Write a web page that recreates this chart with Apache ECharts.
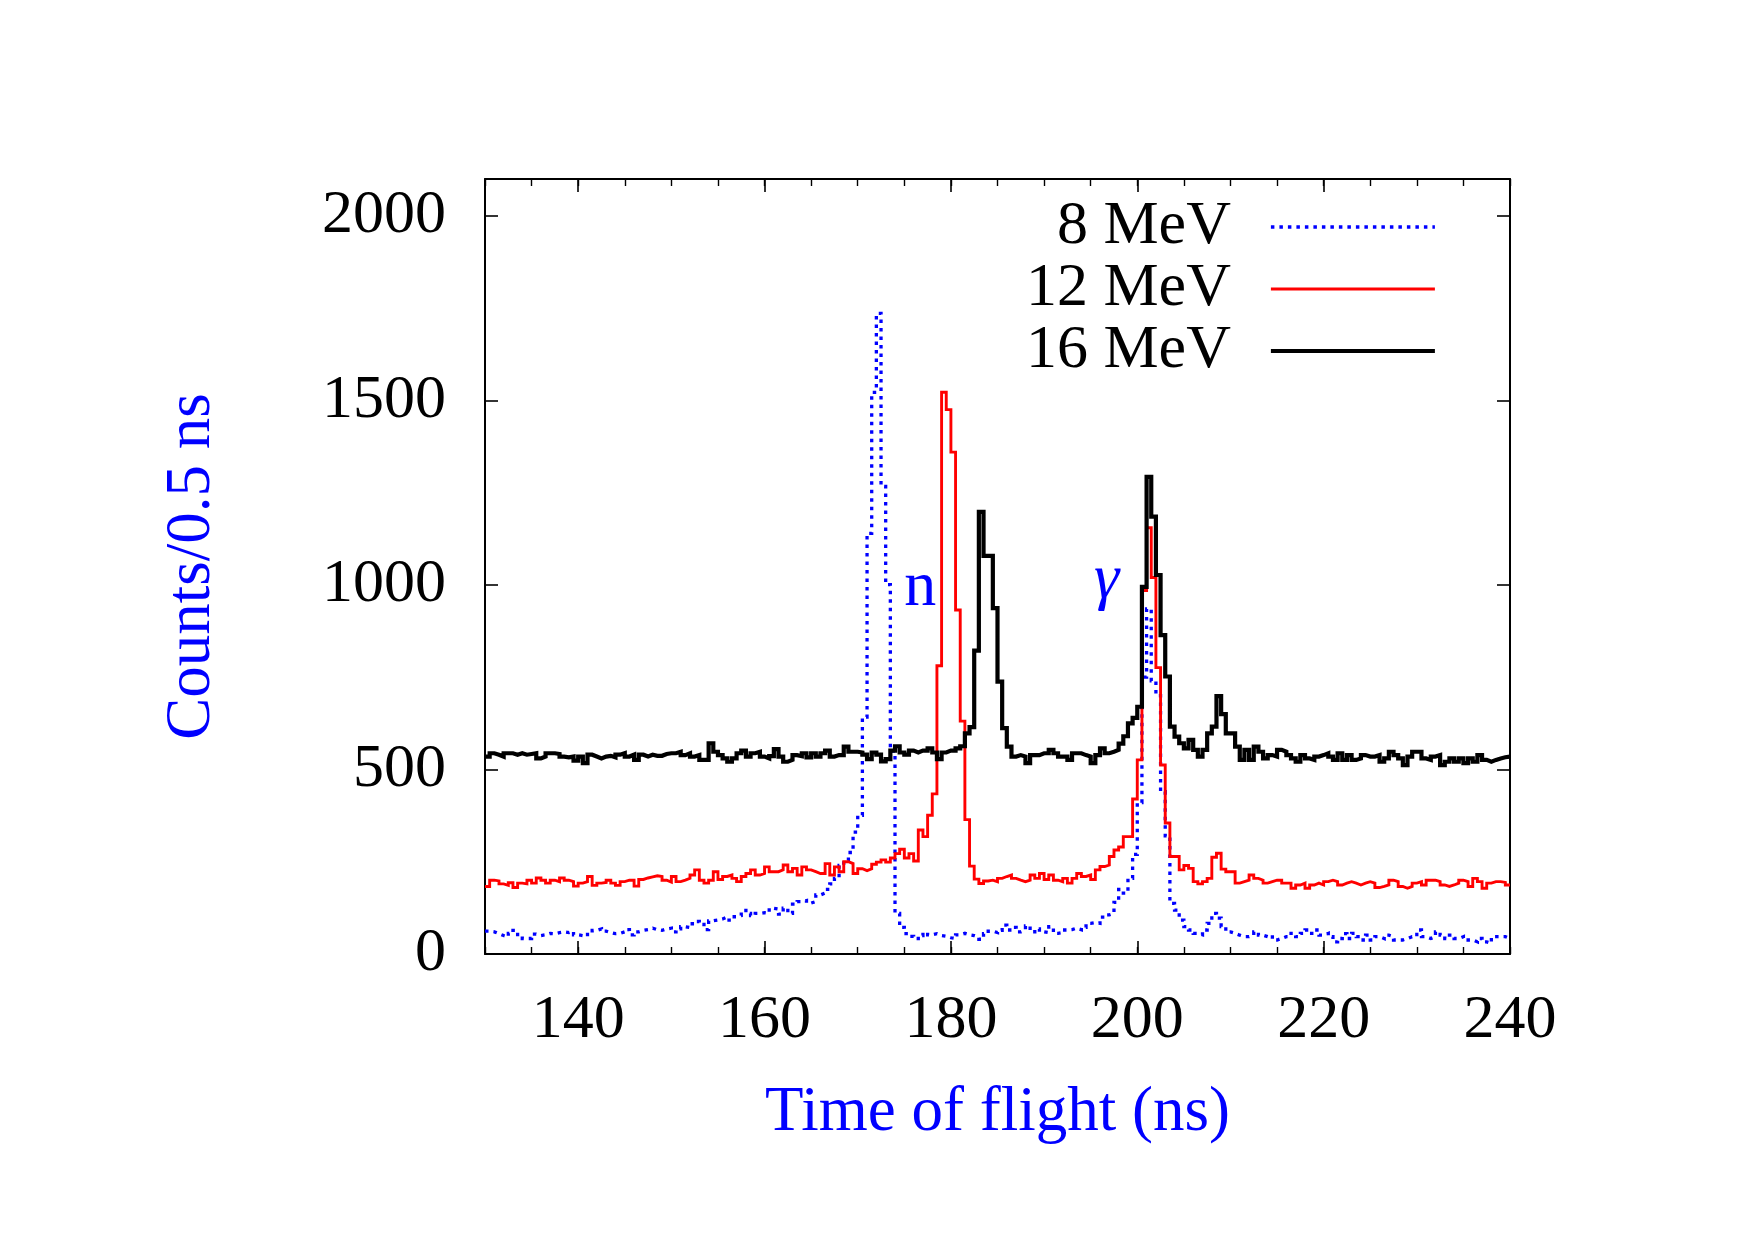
<!DOCTYPE html>
<html>
<head>
<meta charset="utf-8">
<script src="https://cdn.jsdelivr.net/npm/echarts@6/dist/echarts.min.js"></script>
<style>html,body{margin:0;padding:0;background:#fff}#c{width:1755px;height:1240px}</style>
</head>
<body>
<div id="c"></div>
<script>
// ---- data ----
const binStart = 130;      // ns, first bin start
const binWidth = 0.5;      // ns
const xMin = 130, xMax = 240;
const yMin = 0, yMax = 2100;
const xMajorTicks = [140, 160, 180, 200, 220, 240];
const xMinorInterval = 5;
const yTicks = [0, 500, 1000, 1500, 2000];
const seriesNames = ['8 MeV', '12 MeV', '16 MeV'];
const annotationTexts = ['n', 'γ'];
const annotationTimes = [176.7, 196.7];
const annotationCounts = [992, 1013];

const counts8 = [
  62, 60, 55, 50, 46, 56, 64, 48, 42, 42, 54, 50, 52, 56, 55, 58, 60, 58, 62, 52,
  50, 48, 58, 64, 68, 62, 58, 55, 56, 60, 66, 52, 60, 64, 66, 70, 66, 64, 68, 70,
  60, 68, 74, 72, 82, 88, 80, 66, 90, 92, 95, 100, 92, 101, 104, 118, 110, 104, 110, 112,
  110, 124, 122, 108, 124, 110, 135, 142, 145, 138, 142, 160, 165, 175, 190, 205, 240, 255, 275, 330,
  376, 642, 1140, 1522, 1736, 1267, 1001, 550, 110, 72, 55, 48, 42, 50, 58, 52, 55, 50, 48, 44,
  42, 52, 56, 52, 50, 46, 40, 55, 62, 58, 64, 78, 65, 72, 60, 65, 76, 60, 68, 60,
  58, 74, 56, 58, 65, 66, 70, 66, 72, 83, 85, 83, 100, 106, 110, 140, 175, 165, 205, 270,
  410, 750, 935, 740, 700, 440, 320, 137, 119, 92, 74, 65, 56, 52, 65, 83, 110, 97, 74, 60,
  56, 51, 47, 47, 51, 60, 51, 47, 51, 38, 42, 47, 47, 56, 47, 56, 65, 56, 65, 51,
  56, 47, 33, 42, 55, 42, 56, 47, 38, 51, 38, 47, 42, 51, 47, 38, 38, 42, 47, 47,
  65, 47, 42, 47, 60, 51, 42, 51, 42, 47, 38, 38, 33, 42, 33, 29, 47, 47, 47, 42
];
const counts12 = [
  183, 200, 198, 190, 186, 193, 180, 192, 190, 200, 192, 206, 200, 192, 200, 196, 206, 200, 196, 184,
  192, 196, 210, 186, 192, 194, 200, 192, 186, 196, 200, 200, 184, 202, 206, 209, 212, 210, 200, 195,
  210, 196, 200, 205, 214, 228, 200, 192, 200, 223, 202, 210, 214, 205, 196, 210, 218, 228, 214, 218,
  236, 223, 223, 228, 241, 223, 232, 214, 236, 228, 223, 218, 218, 245, 214, 236, 223, 250, 245, 218,
  231, 226, 231, 243, 249, 255, 249, 260, 272, 284, 260, 272, 252, 336, 318, 376, 434, 781, 1522, 1475,
  1360, 932, 631, 364, 238, 203, 191, 198, 200, 196, 205, 210, 214, 205, 200, 196, 200, 214, 205, 218,
  202, 214, 200, 196, 205, 192, 205, 218, 210, 214, 202, 228, 237, 241, 264, 282, 290, 318, 318, 420,
  526, 985, 1155, 1020, 776, 512, 355, 264, 264, 228, 240, 232, 196, 190, 196, 205, 262, 273, 230, 223,
  223, 192, 196, 200, 214, 205, 200, 192, 196, 200, 200, 192, 192, 178, 187, 192, 178, 187, 192, 187,
  196, 200, 196, 187, 192, 196, 192, 187, 192, 196, 192, 180, 183, 187, 200, 196, 183, 178, 183, 192,
  196, 187, 200, 200, 196, 187, 183, 187, 192, 200, 196, 183, 205, 196, 178, 192, 196, 196, 194, 187
];
const counts16 = [
  535, 544, 540, 535, 544, 544, 540, 544, 540, 542, 544, 530, 535, 544, 544, 542, 535, 533, 535, 524,
  535, 517, 540, 535, 530, 535, 537, 533, 540, 544, 535, 540, 526, 540, 535, 540, 537, 537, 542, 544,
  544, 548, 539, 544, 535, 539, 526, 526, 571, 548, 539, 530, 521, 530, 544, 551, 535, 544, 548, 535,
  530, 536, 555, 535, 521, 526, 539, 536, 544, 533, 544, 535, 544, 551, 535, 539, 539, 562, 548, 548,
  546, 540, 528, 546, 540, 522, 528, 551, 563, 546, 540, 551, 546, 551, 551, 557, 546, 528, 546, 551,
  551, 557, 563, 598, 615, 822, 1198, 1079, 1079, 937, 738, 612, 562, 535, 539, 535, 517, 539, 539, 544,
  544, 553, 544, 535, 535, 526, 544, 544, 539, 535, 517, 539, 557, 544, 548, 553, 570, 590, 625, 640,
  670, 995, 1293, 1185, 1027, 864, 752, 616, 589, 571, 557, 580, 553, 535, 553, 598, 616, 699, 650, 598,
  598, 562, 526, 553, 526, 562, 548, 530, 539, 535, 553, 548, 539, 530, 521, 539, 530, 526, 535, 539,
  544, 535, 526, 544, 526, 539, 526, 530, 539, 535, 535, 539, 521, 530, 548, 539, 530, 512, 535, 548,
  548, 530, 526, 535, 539, 512, 521, 530, 521, 530, 517, 530, 521, 539, 526, 521, 526, 530, 533, 535
];

// ---- build ----
function toSteps(vals) {
  const pts = vals.map((v, i) => [binStart + binWidth * i, v]);
  pts.push([binStart + binWidth * vals.length, vals[vals.length - 1]]);
  return pts;
}
const FONT = 'Liberation Serif';
const BLUE = '#0000ff', RED = '#ff0000', BLACK = '#000000';
const plainNumber = v => String(v);

const chart = echarts.init(document.getElementById('c'), null, {renderer: 'canvas'});

function xAxisMajor(pos, withLabels) {
  return {
    type: 'value', position: pos, min: xMin, max: xMax,
    axisLine: {show: true, onZero: false, lineStyle: {color: BLACK, width: 2}},
    axisTick: {show: true, inside: true, length: 13, customValues: xMajorTicks, lineStyle: {color: BLACK, width: 1.6}},
    axisLabel: {show: withLabels, customValues: xMajorTicks, formatter: plainNumber, margin: 36, fontFamily: FONT, fontSize: 62, color: BLACK},
    splitLine: {show: false},
    name: withLabels ? 'Time of flight (ns)' : '',
    nameLocation: 'middle', nameGap: 128,
    nameTextStyle: {fontFamily: FONT, fontSize: 63, color: BLUE}
  };
}
function xAxisMinor(pos) {
  return {
    type: 'value', position: pos, min: xMin, max: xMax, interval: xMinorInterval,
    axisLine: {show: false, onZero: false},
    axisTick: {show: true, inside: true, length: 7, lineStyle: {color: BLACK, width: 1.4}},
    axisLabel: {show: false},
    splitLine: {show: false}
  };
}
function yAxisDef(pos, withLabels) {
  return {
    type: 'value', position: pos, min: yMin, max: yMax,
    axisLine: {show: true, onZero: false, lineStyle: {color: BLACK, width: 2}},
    axisTick: {show: true, inside: true, length: 13, customValues: yTicks, lineStyle: {color: BLACK, width: 1.6}},
    axisLabel: {show: withLabels, customValues: yTicks, formatter: plainNumber, margin: 39, fontFamily: FONT, fontSize: 62, color: BLACK},
    splitLine: {show: false},
    name: withLabels ? 'Counts/0.5 ns' : '',
    nameLocation: 'middle', nameGap: 261,
    nameTextStyle: {fontFamily: FONT, fontSize: 63, color: BLUE}
  };
}

const option = {
  backgroundColor: '#ffffff',
  animation: false,
  grid: {left: 485, right: 245, top: 179, bottom: 286, containLabel: false},
  xAxis: [xAxisMajor('bottom', true), xAxisMinor('bottom'), xAxisMajor('top', false), xAxisMinor('top')],
  yAxis: [yAxisDef('left', true), yAxisDef('right', false)],
  legend: {
    data: seriesNames,
    orient: 'vertical', align: 'right',
    right: 318, top: 196, padding: 0, itemGap: 0,
    itemWidth: 164, itemHeight: 14,
    selectedMode: false,
    textStyle: {fontFamily: FONT, fontSize: 62, color: BLACK, lineHeight: 62, padding: [0, 35, 0, 0]},
    itemStyle: {opacity: 0},
    lineStyle: {width: 'inherit'}
  },
  series: [
    {
      name: seriesNames[0], type: 'line', xAxisIndex: 0, yAxisIndex: 0, step: 'end',
      data: toSteps(counts8), symbol: 'none', z: 2,
      lineStyle: {color: BLUE, width: 3.3, type: [3.5, 5], join: 'miter'},
      itemStyle: {color: BLUE},
      markPoint: {
        symbol: 'rect', symbolSize: 1,
        itemStyle: {color: 'rgba(0,0,0,0)'},
        label: {show: true, position: 'inside', fontFamily: FONT, fontSize: 64, color: BLUE},
        data: annotationTexts.map((t, i) => ({
          coord: [annotationTimes[i], annotationCounts[i]],
          label: {formatter: t, fontStyle: t === 'γ' ? 'italic' : 'normal'}
        }))
      }
    },
    {
      name: seriesNames[1], type: 'line', xAxisIndex: 0, yAxisIndex: 0, step: 'end',
      data: toSteps(counts12), symbol: 'none', z: 3,
      lineStyle: {color: RED, width: 2.9, join: 'miter'},
      itemStyle: {color: RED}
    },
    {
      name: seriesNames[2], type: 'line', xAxisIndex: 0, yAxisIndex: 0, step: 'end',
      data: toSteps(counts16), symbol: 'none', z: 4,
      lineStyle: {color: BLACK, width: 4.2, join: 'miter'},
      itemStyle: {color: BLACK}
    }
  ]
};
chart.setOption(option);
</script>
</body>
</html>
